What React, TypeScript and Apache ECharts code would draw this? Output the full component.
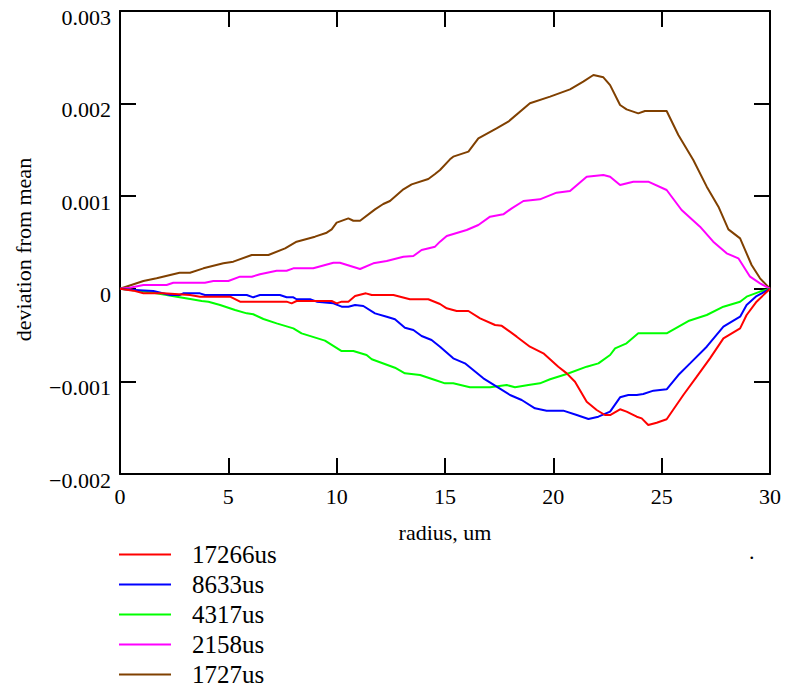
import React, { useEffect, useRef } from "react";
import * as echarts from "echarts";

// ---- data (deviation values) ----
const seriesNames = ["17266us", "8633us", "4317us", "2158us", "1727us"];
const seriesColors = ["#ff0000", "#0000ff", "#00ff00", "#ff00ff", "#804000"];

const radiusRed = [0, 0.62, 1.08, 2.0, 3.23, 3.69, 5.08, 5.54, 7.69, 7.92, 8.15, 9.77, 10.0, 10.23, 10.54, 10.85, 11.35, 11.62, 12.62, 13.38, 14.23, 14.77, 15.08, 15.54, 16.08, 16.62, 17.31, 17.62, 18.31, 18.92, 19.54, 20.23, 20.62, 21.0, 21.54, 22.0, 22.38, 22.62, 23.08, 23.38, 23.85, 24.08, 24.38, 24.77, 25.23, 26.0, 26.62, 27.23, 27.85, 28.62, 28.92, 29.38, 30];
const devRed = [0, -0.02e-3, -0.049e-3, -0.049e-3, -0.067e-3, -0.085e-3, -0.085e-3, -0.139e-3, -0.139e-3, -0.157e-3, -0.132e-3, -0.132e-3, -0.157e-3, -0.139e-3, -0.139e-3, -0.078e-3, -0.049e-3, -0.067e-3, -0.067e-3, -0.113e-3, -0.113e-3, -0.164e-3, -0.211e-3, -0.24e-3, -0.24e-3, -0.319e-3, -0.391e-3, -0.4e-3, -0.517e-3, -0.625e-3, -0.697e-3, -0.841e-3, -0.913e-3, -1.003e-3, -1.219e-3, -1.309e-3, -1.363e-3, -1.363e-3, -1.301e-3, -1.327e-3, -1.381e-3, -1.399e-3, -1.471e-3, -1.446e-3, -1.409e-3, -1.147e-3, -0.949e-3, -0.751e-3, -0.535e-3, -0.427e-3, -0.283e-3, -0.139e-3, 0];

const radiusBlue = [0, 0.46, 1.54, 2.31, 2.75, 2.92, 3.69, 3.92, 5.85, 6.15, 6.46, 7.38, 7.69, 8.0, 8.15, 8.77, 9.08, 9.85, 10.23, 10.54, 10.85, 11.23, 11.77, 12.31, 12.69, 13.15, 13.54, 13.92, 14.38, 14.77, 15.38, 15.92, 16.77, 17.46, 18.0, 18.54, 19.15, 19.69, 20.46, 21.08, 21.62, 22.08, 22.62, 23.08, 23.46, 23.85, 24.15, 24.62, 25.23, 25.77, 26.31, 27.08, 27.85, 28.31, 28.62, 28.92, 29.38, 30];
const devBlue = [0, -0.01e-3, -0.024e-3, -0.067e-3, -0.067e-3, -0.049e-3, -0.049e-3, -0.067e-3, -0.067e-3, -0.092e-3, -0.067e-3, -0.067e-3, -0.092e-3, -0.092e-3, -0.113e-3, -0.113e-3, -0.139e-3, -0.157e-3, -0.193e-3, -0.193e-3, -0.175e-3, -0.186e-3, -0.265e-3, -0.301e-3, -0.329e-3, -0.42e-3, -0.445e-3, -0.51e-3, -0.553e-3, -0.625e-3, -0.751e-3, -0.805e-3, -0.967e-3, -1.068e-3, -1.147e-3, -1.201e-3, -1.291e-3, -1.316e-3, -1.316e-3, -1.363e-3, -1.406e-3, -1.381e-3, -1.327e-3, -1.172e-3, -1.147e-3, -1.147e-3, -1.136e-3, -1.1e-3, -1.086e-3, -0.931e-3, -0.805e-3, -0.625e-3, -0.409e-3, -0.344e-3, -0.301e-3, -0.175e-3, -0.078e-3, 0];

const radiusGreen = [0, 0.92, 1.54, 2.15, 2.62, 3.31, 3.77, 4.08, 4.62, 5.31, 5.85, 6.15, 6.62, 7.23, 8.0, 8.38, 9.46, 10.23, 10.77, 11.38, 11.62, 12.69, 13.15, 13.85, 14.54, 15.0, 15.38, 16.15, 17.08, 17.85, 18.23, 18.85, 19.38, 19.85, 20.62, 21.54, 22.08, 22.62, 22.85, 23.38, 23.92, 25.23, 26.23, 27.08, 27.85, 28.62, 28.92, 29.54, 30];
const devGreen = [0, -0.024e-3, -0.042e-3, -0.067e-3, -0.085e-3, -0.113e-3, -0.132e-3, -0.139e-3, -0.175e-3, -0.229e-3, -0.265e-3, -0.275e-3, -0.326e-3, -0.373e-3, -0.427e-3, -0.481e-3, -0.56e-3, -0.672e-3, -0.672e-3, -0.715e-3, -0.761e-3, -0.852e-3, -0.913e-3, -0.931e-3, -0.985e-3, -1.021e-3, -1.021e-3, -1.064e-3, -1.064e-3, -1.039e-3, -1.064e-3, -1.039e-3, -1.021e-3, -0.977e-3, -0.92e-3, -0.841e-3, -0.805e-3, -0.715e-3, -0.643e-3, -0.589e-3, -0.481e-3, -0.481e-3, -0.348e-3, -0.283e-3, -0.193e-3, -0.139e-3, -0.085e-3, -0.03e-3, 0];

const radiusMagenta = [0, 0.46, 1.08, 2.15, 2.46, 3.92, 4.31, 5.0, 5.54, 6.08, 6.46, 7.23, 7.69, 8.0, 8.92, 9.85, 10.15, 11.08, 11.69, 12.31, 13.08, 13.54, 13.92, 14.54, 14.77, 15.08, 16.0, 16.54, 17.08, 17.69, 18.08, 18.62, 19.38, 20.15, 20.77, 21.54, 22.31, 22.62, 23.08, 23.69, 24.38, 25.23, 25.92, 26.77, 27.38, 28.0, 28.54, 29.08, 29.54, 30];
const devMagenta = [0, 0.012e-3, 0.041e-3, 0.041e-3, 0.066e-3, 0.066e-3, 0.084e-3, 0.084e-3, 0.131e-3, 0.131e-3, 0.157e-3, 0.195e-3, 0.195e-3, 0.221e-3, 0.221e-3, 0.282e-3, 0.282e-3, 0.214e-3, 0.275e-3, 0.3e-3, 0.347e-3, 0.354e-3, 0.419e-3, 0.455e-3, 0.509e-3, 0.57e-3, 0.635e-3, 0.689e-3, 0.779e-3, 0.804e-3, 0.869e-3, 0.948e-3, 0.966e-3, 1.038e-3, 1.056e-3, 1.211e-3, 1.229e-3, 1.211e-3, 1.121e-3, 1.157e-3, 1.157e-3, 1.067e-3, 0.851e-3, 0.671e-3, 0.509e-3, 0.383e-3, 0.329e-3, 0.131e-3, 0.059e-3, 0];

const radiusBrown = [0, 1.08, 1.69, 2.75, 3.23, 3.85, 4.77, 5.23, 6.08, 6.85, 7.62, 8.15, 9.0, 9.54, 9.77, 10.0, 10.54, 10.77, 11.08, 11.77, 12.15, 12.46, 13.08, 13.46, 14.23, 14.54, 14.77, 15.23, 15.38, 16.08, 16.54, 17.38, 17.92, 18.92, 19.85, 20.77, 21.38, 21.85, 22.31, 22.62, 23.08, 23.38, 23.92, 24.23, 25.23, 25.77, 26.46, 27.08, 27.62, 28.08, 28.62, 29.15, 29.54, 30];
const devBrown = [0, 0.084e-3, 0.113e-3, 0.174e-3, 0.174e-3, 0.221e-3, 0.275e-3, 0.293e-3, 0.365e-3, 0.365e-3, 0.437e-3, 0.509e-3, 0.563e-3, 0.606e-3, 0.642e-3, 0.714e-3, 0.761e-3, 0.735e-3, 0.735e-3, 0.858e-3, 0.916e-3, 0.948e-3, 1.074e-3, 1.128e-3, 1.186e-3, 1.24e-3, 1.283e-3, 1.398e-3, 1.427e-3, 1.481e-3, 1.625e-3, 1.733e-3, 1.805e-3, 2.003e-3, 2.075e-3, 2.154e-3, 2.237e-3, 2.309e-3, 2.284e-3, 2.2e-3, 1.985e-3, 1.938e-3, 1.895e-3, 1.92e-3, 1.92e-3, 1.661e-3, 1.391e-3, 1.103e-3, 0.887e-3, 0.642e-3, 0.545e-3, 0.257e-3, 0.113e-3, 0];

const yTickValues = [-0.002, -0.001, 0, 0.001, 0.002, 0.003];
const yTickLabels = ["\u22120.002", "\u22120.001", "0", "0.001", "0.002", "0.003"];

const seriesRadius = [radiusRed, radiusBlue, radiusGreen, radiusMagenta, radiusBrown];
const seriesDev = [devRed, devBlue, devGreen, devMagenta, devBrown];

const FONT = "Liberation Serif";

export default function App() {
  const ref = useRef<HTMLDivElement>(null);

  useEffect(() => {
    if (!ref.current) return;
    const chart = echarts.init(ref.current, null, { renderer: "svg" });

    const yLabel = (v: number) => {
      let best = 0;
      for (let i = 0; i < yTickValues.length; i++) {
        if (Math.abs(yTickValues[i] - v) < Math.abs(yTickValues[best] - v)) best = i;
      }
      return "{t|" + yTickLabels[best] + "}";
    };

    const axisCommon = {
      axisLine: { show: true, onZero: false, lineStyle: { color: "#000", width: 2 } },
      axisTick: { show: true, inside: true, length: 16, lineStyle: { color: "#000", width: 2 } },
      splitLine: { show: false },
    };

    const series = seriesNames.map((name, k) => ({
      name,
      type: "line",
      xAxisIndex: 0,
      yAxisIndex: 0,
      data: seriesRadius[k].map((r, i) => [r, seriesDev[k][i]]),
      showSymbol: false,
      symbol: "none",
      lineStyle: { color: seriesColors[k], width: 2 },
      itemStyle: { color: seriesColors[k] },
      z: 2 + (seriesNames.length - k),
    }));

    chart.setOption({
      animation: false,
      backgroundColor: "#fff",
      textStyle: { fontFamily: FONT },
      grid: { left: 120, top: 11, width: 650, height: 463, containLabel: false },
      xAxis: [
        {
          type: "value",
          position: "bottom",
          min: 0,
          max: 30,
          interval: 5,
          name: "radius, um",
          nameLocation: "middle",
          nameGap: 47,
          nameTextStyle: { fontFamily: FONT, fontSize: 22, color: "#000" },
          axisLabel: { fontFamily: FONT, fontSize: 22, color: "#000", margin: 11 },
          ...axisCommon,
        },
        {
          type: "value",
          position: "top",
          min: 0,
          max: 30,
          interval: 5,
          axisLabel: { show: false },
          ...axisCommon,
        },
      ],
      yAxis: [
        {
          type: "value",
          position: "left",
          min: -0.002,
          max: 0.003,
          interval: 0.001,
          name: "deviation from mean",
          nameLocation: "middle",
          nameGap: 86,
          nameRotate: 90,
          nameTextStyle: { fontFamily: FONT, fontSize: 22, color: "#000", padding: [0, 14, 0, 0] },
          axisLabel: {
            fontFamily: FONT,
            fontSize: 22,
            color: "#000",
            margin: 9,
            formatter: (v: number) => yLabel(v),
            rich: {
              t: { fontFamily: FONT, fontSize: 22, color: "#000", padding: [12, 0, 0, 0] },
            },
          },
          ...axisCommon,
        },
        {
          type: "value",
          position: "right",
          min: -0.002,
          max: 0.003,
          interval: 0.001,
          axisLabel: { show: false },
          ...axisCommon,
        },
      ],
      legend: {
        orient: "vertical",
        left: 119,
        top: 542,
        padding: 0,
        itemGap: 5,
        itemWidth: 52,
        itemHeight: 2,
        icon: "rect",
        data: seriesNames,
        textStyle: { fontFamily: FONT, fontSize: 25, color: "#000", lineHeight: 25, padding: [0, 0, 0, 16] },
      },
      graphic: [
        {
          type: "text",
          left: 749,
          top: 540,
          style: { text: ".", fontFamily: FONT, fontSize: 22, fill: "#000" },
        },
      ],
      series,
    });

    return () => chart.dispose();
  }, []);

  return (
    <div
      ref={ref}
      style={{ position: "fixed", left: 0, top: 0, width: 787, height: 693 }}
    />
  );
}
